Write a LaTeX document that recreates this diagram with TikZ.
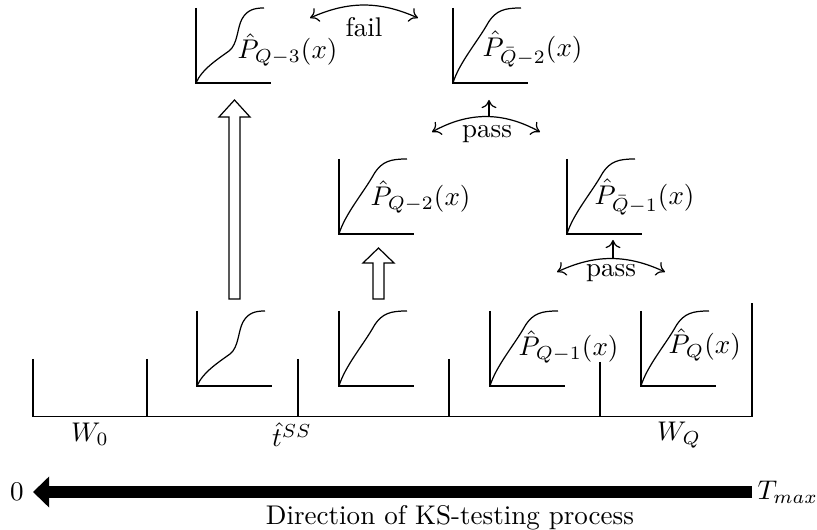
\documentclass[tikz,border=0pt]{standalone}
\usetikzlibrary{arrows.meta}
\begin{document}
\begin{tikzpicture}[x=0.37pt,y=-0.37pt, line width=0.45pt,
  lab/.style={inner sep=0pt, anchor=west},
  txt/.style={inner sep=0pt},
  arcarrow/.style={{To[length=3pt,width=5.5pt]}-{To[length=3pt,width=5.5pt]}},
  uparrow/.style={-{To[length=3pt,width=5.5pt]}},
  hollow/.style={draw, fill=white, line join=miter},
  cdfS/.pic={\draw (0,-75) -- (0,0) -- (75,0);
    \draw (0,0) .. controls (6,-14) and (22,-24) .. (33,-32)
      .. controls (42,-39) and (41,-55) .. (46,-64)
      .. controls (51,-73) and (58,-75) .. (68,-75);},
  cdfL/.pic={\draw (0,-75) -- (0,0) -- (75,0);
    \draw (0,0) .. controls (6,-20) and (25,-42) .. (35,-60)
      .. controls (43,-73) and (52,-75) .. (68,-75);},
  ]
\path[use as bounding box] (0,0) rectangle (817,530);

% time axis
\draw (33,359) -- (33,416.5) -- (752,416.5) -- (752,303);
\draw (147,359) -- (147,416.5);
\draw (298,359) -- (298,416.5);
\draw (449,359) -- (449,416.5);
\draw (600,362) -- (600,416.5);

% bottom row plots
\pic at (197,386) {cdfS};
\pic at (339,386) {cdfL};
\pic at (490,386) {cdfL};
\pic at (641,386) {cdfL};
\node[lab] (pq1) at (518,347) {$\hat{P}_{Q-1}(x)$};
\node[lab] (pq) at (668,345) {$\hat{P}_{Q}(x)$};

% middle row
\pic at (339,234) {cdfL};
\pic at (567,234) {cdfL};
\node[lab] (pq2) at (370,197) {$\hat{P}_{Q-2}(x)$};
\node[lab] (pqb1) at (594,197) {$\hat{P}_{\bar{Q}-1}(x)$};

% top row
\pic at (196,83) {cdfS};
\pic at (453,83) {cdfL};
\node[lab] (pq3) at (237,50) {$\hat{P}_{Q-3}(x)$};
\node[lab] (pqb2) at (482,49) {$\hat{P}_{\bar{Q}-2}(x)$};

% hollow arrows
\draw[hollow] (229,299) -- (229,117) -- (219,117) -- (234.5,100) -- (250,117) -- (240,117) -- (240,299) -- cycle;
\draw[hollow] (373,299) -- (373,263) -- (363,263) -- (378.5,248) -- (394,263) -- (384,263) -- (384,299) -- cycle;

% fail arc
\coordinate (fl) at (310,18);
\coordinate (fr) at (418,18);
\draw[arcarrow] (fl) to[bend left=24] (fr);
\node[txt] (fail) at (364,27) {fail};

% first pass
\coordinate (pl1) at (432,132);
\coordinate (pr1) at (540,132);
\coordinate (pb1) at (489,117.5);
\coordinate (pt1) at (489,100);
\draw[arcarrow] (pl1) to[bend left=29] (pr1);
\draw[uparrow] (pb1) -- (pt1);
\node[txt] (pass1) at (487,134) {pass};

% second pass
\coordinate (pl2) at (557,272);
\coordinate (pr2) at (665,272);
\coordinate (pb2) at (613,259);
\coordinate (pt2) at (613,240);
\draw[arcarrow] (pl2) to[bend left=25] (pr2);
\draw[uparrow] (pb2) -- (pt2);
\node[txt] (pass2) at (611,273) {pass};

% labels under axis
\node[txt] (w0) at (90,434) {$W_0$};
\node[txt] (tss) at (292,435) {$\hat{t}^{SS}$};
\node[txt] (wq) at (679,435) {$W_Q$};

% direction arrow
\coordinate (tmax) at (752,492);
\coordinate (zero) at (33,492);
\draw[line width=4.3pt, -{Triangle[length=6pt,width=11.2pt]}] (tmax) -- (zero);
\node[txt] (zerolab) at (17,492) {$0$};
\node[lab] (tmaxlab) at (757,492) {$T_{max}$};
\node[txt] (dir) at (450,518) {Direction of KS-testing process};
\end{tikzpicture}
\end{document}
